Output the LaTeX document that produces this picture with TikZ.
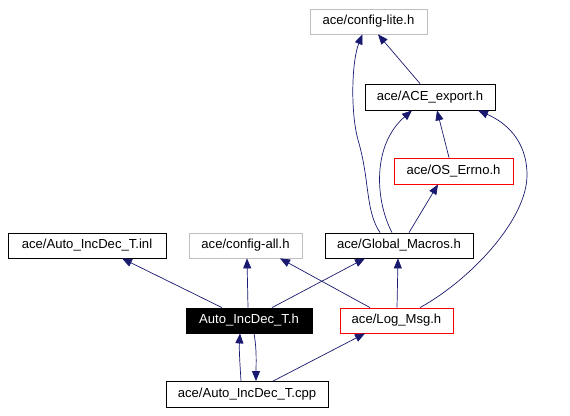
\documentclass[tikz,border=0pt]{standalone}
\usepackage{fontspec}
\setmainfont{Liberation Sans}
\usetikzlibrary{arrows.meta}
\definecolor{edgeblue}{HTML}{191970}
\definecolor{graybox}{HTML}{BFBFBF}
\begin{document}
\begin{tikzpicture}[x=1pt,y=-1pt,
  font=\fontsize{13.1}{15}\selectfont,
  box/.style={draw=black, rectangle, inner sep=0pt, minimum height=25pt, line width=0.8pt},
  graynode/.style={box, draw=graybox},
  rednode/.style={box, draw=red},
  focus/.style={box, fill=black, text=white},
  dep/.style={edgeblue, line width=0.7pt, -{Triangle[length=10pt,width=8pt]}}]
\useasboundingbox[fill=white] (0,0) rectangle (570,415);

\node[graynode, minimum width=117pt] (lite) at (368.5,21.5) {ace/config-lite.h};
\node[box, minimum width=130pt, minimum height=26pt] (export) at (430,97) {ace/ACE\_export.h};
\node[rednode, minimum width=119pt, minimum height=26pt] (errno) at (453.5,171) {ace/OS\_Errno.h};
\node[box, minimum width=148pt] (macros) at (399,245.5) {ace/Global\_Macros.h};
\node[rednode, minimum width=113pt] (logmsg) at (396.5,320.5) {ace/Log\_Msg.h};
\node[box, minimum width=158pt] (inl) at (87,245.5) {ace/Auto\_IncDec\_T.inl};
\node[graynode, minimum width=113pt] (all) at (245.5,245.5) {ace/config-all.h};
\node[focus, minimum width=126pt] (h) at (249,320.5) {Auto\_IncDec\_T.h};
\node[box, minimum width=162pt, minimum height=26pt] (cpp) at (247,394.5) {ace/Auto\_IncDec\_T.cpp};

\draw[dep] ([xshift=-27pt]h.north) -- ([xshift=35pt]inl.south);
\draw[dep] ([xshift=-1pt]h.north) -- ([xshift=1.5pt]all.south);
\draw[dep] ([xshift=23pt]h.north) -- ([xshift=-34pt]macros.south);
\draw[dep] ([xshift=-26.5pt]logmsg.north) -- ([xshift=34.5pt]all.south);
\draw[dep] ([xshift=0.5pt]logmsg.north) -- ([xshift=-1pt]macros.south);
\draw[dep] ([xshift=23.5pt]logmsg.north) .. controls (470,280) and (527,220) .. (527,175)
  .. controls (527,140) and (505,122) .. ([xshift=48pt]export.south);
\draw[dep] ([xshift=-19pt]macros.north) .. controls (365,210) and (370,180) .. (358,140)
  .. controls (350,110) and (352,60) .. ([xshift=-6pt]lite.south);
\draw[dep] ([xshift=-7pt]macros.north) .. controls (375,200) and (372,145) .. ([xshift=-18pt]export.south);
\draw[dep] ([xshift=10pt]macros.north) -- ([xshift=-15.5pt]errno.south);
\draw[dep] ([xshift=-4.5pt]errno.north) -- ([xshift=7pt]export.south);
\draw[dep] ([xshift=-10pt]export.north) -- ([xshift=9.5pt]lite.south);
\draw[dep] ([xshift=-6pt]cpp.north) .. controls (240,365) and (239,350) .. ([xshift=-9pt]h.south);
\draw[dep] ([xshift=5pt]h.south) .. controls (257,350) and (256,365) .. ([xshift=9pt]cpp.north);
\draw[dep] ([xshift=26pt]cpp.north) -- ([xshift=-31.5pt]logmsg.south);
\end{tikzpicture}
\end{document}
